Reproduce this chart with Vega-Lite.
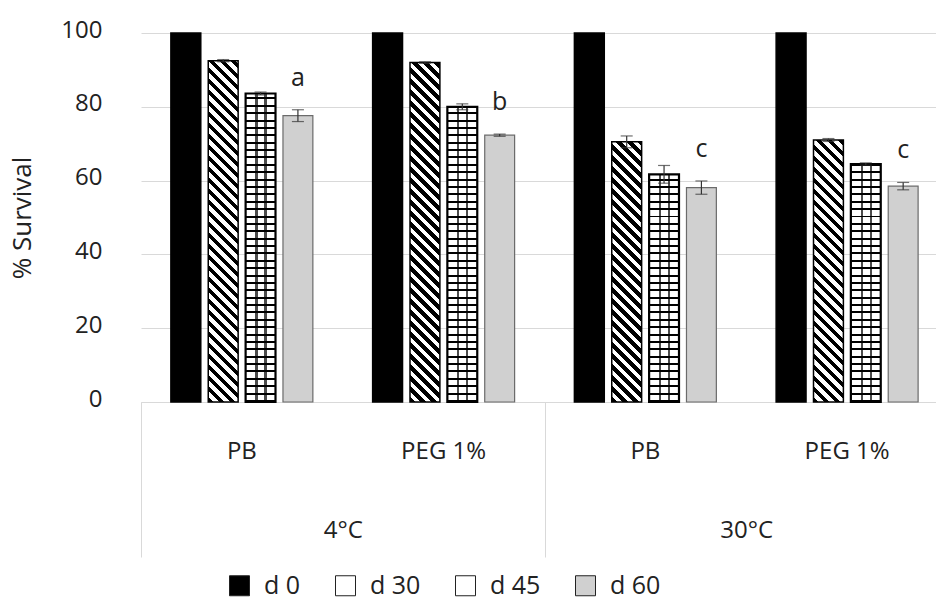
{
  "$schema": "https://vega.github.io/schema/vega-lite/v6.json",
  "width": 795,
  "height": 369,
  "autosize": "none",
  "padding": {"left": 141, "top": 33, "right": 0, "bottom": 203},
  "background": "white",
  "config": {"view": {"stroke": null}, "font": "Open Sans"},
  "params": [
    {"name": "stripeStops", "value": [
      {"offset":0,"color":"#000"},{"offset":0.0125,"color":"#000"},{"offset":0.0125,"color":"#fff"},{"offset":0.025,"color":"#fff"},
      {"offset":0.025,"color":"#000"},{"offset":0.0375,"color":"#000"},{"offset":0.0375,"color":"#fff"},{"offset":0.05,"color":"#fff"},
      {"offset":0.05,"color":"#000"},{"offset":0.0625,"color":"#000"},{"offset":0.0625,"color":"#fff"},{"offset":0.075,"color":"#fff"},
      {"offset":0.075,"color":"#000"},{"offset":0.0875,"color":"#000"},{"offset":0.0875,"color":"#fff"},{"offset":0.1,"color":"#fff"},
      {"offset":0.1,"color":"#000"},{"offset":0.1125,"color":"#000"},{"offset":0.1125,"color":"#fff"},{"offset":0.125,"color":"#fff"},
      {"offset":0.125,"color":"#000"},{"offset":0.1375,"color":"#000"},{"offset":0.1375,"color":"#fff"},{"offset":0.15,"color":"#fff"},
      {"offset":0.15,"color":"#000"},{"offset":0.1625,"color":"#000"},{"offset":0.1625,"color":"#fff"},{"offset":0.175,"color":"#fff"},
      {"offset":0.175,"color":"#000"},{"offset":0.1875,"color":"#000"},{"offset":0.1875,"color":"#fff"},{"offset":0.2,"color":"#fff"},
      {"offset":0.2,"color":"#000"},{"offset":0.2125,"color":"#000"},{"offset":0.2125,"color":"#fff"},{"offset":0.225,"color":"#fff"},
      {"offset":0.225,"color":"#000"},{"offset":0.2375,"color":"#000"},{"offset":0.2375,"color":"#fff"},{"offset":0.25,"color":"#fff"},
      {"offset":0.25,"color":"#000"},{"offset":0.2625,"color":"#000"},{"offset":0.2625,"color":"#fff"},{"offset":0.275,"color":"#fff"},
      {"offset":0.275,"color":"#000"},{"offset":0.2875,"color":"#000"},{"offset":0.2875,"color":"#fff"},{"offset":0.3,"color":"#fff"},
      {"offset":0.3,"color":"#000"},{"offset":0.3125,"color":"#000"},{"offset":0.3125,"color":"#fff"},{"offset":0.325,"color":"#fff"},
      {"offset":0.325,"color":"#000"},{"offset":0.3375,"color":"#000"},{"offset":0.3375,"color":"#fff"},{"offset":0.35,"color":"#fff"},
      {"offset":0.35,"color":"#000"},{"offset":0.3625,"color":"#000"},{"offset":0.3625,"color":"#fff"},{"offset":0.375,"color":"#fff"},
      {"offset":0.375,"color":"#000"},{"offset":0.3875,"color":"#000"},{"offset":0.3875,"color":"#fff"},{"offset":0.4,"color":"#fff"},
      {"offset":0.4,"color":"#000"},{"offset":0.4125,"color":"#000"},{"offset":0.4125,"color":"#fff"},{"offset":0.425,"color":"#fff"},
      {"offset":0.425,"color":"#000"},{"offset":0.4375,"color":"#000"},{"offset":0.4375,"color":"#fff"},{"offset":0.45,"color":"#fff"},
      {"offset":0.45,"color":"#000"},{"offset":0.4625,"color":"#000"},{"offset":0.4625,"color":"#fff"},{"offset":0.475,"color":"#fff"},
      {"offset":0.475,"color":"#000"},{"offset":0.4875,"color":"#000"},{"offset":0.4875,"color":"#fff"},{"offset":0.5,"color":"#fff"},
      {"offset":0.5,"color":"#000"},{"offset":0.5125,"color":"#000"},{"offset":0.5125,"color":"#fff"},{"offset":0.525,"color":"#fff"},
      {"offset":0.525,"color":"#000"},{"offset":0.5375,"color":"#000"},{"offset":0.5375,"color":"#fff"},{"offset":0.55,"color":"#fff"},
      {"offset":0.55,"color":"#000"},{"offset":0.5625,"color":"#000"},{"offset":0.5625,"color":"#fff"},{"offset":0.575,"color":"#fff"},
      {"offset":0.575,"color":"#000"},{"offset":0.5875,"color":"#000"},{"offset":0.5875,"color":"#fff"},{"offset":0.6,"color":"#fff"},
      {"offset":0.6,"color":"#000"},{"offset":0.6125,"color":"#000"},{"offset":0.6125,"color":"#fff"},{"offset":0.625,"color":"#fff"},
      {"offset":0.625,"color":"#000"},{"offset":0.6375,"color":"#000"},{"offset":0.6375,"color":"#fff"},{"offset":0.65,"color":"#fff"},
      {"offset":0.65,"color":"#000"},{"offset":0.6625,"color":"#000"},{"offset":0.6625,"color":"#fff"},{"offset":0.675,"color":"#fff"},
      {"offset":0.675,"color":"#000"},{"offset":0.6875,"color":"#000"},{"offset":0.6875,"color":"#fff"},{"offset":0.7,"color":"#fff"},
      {"offset":0.7,"color":"#000"},{"offset":0.7125,"color":"#000"},{"offset":0.7125,"color":"#fff"},{"offset":0.725,"color":"#fff"},
      {"offset":0.725,"color":"#000"},{"offset":0.7375,"color":"#000"},{"offset":0.7375,"color":"#fff"},{"offset":0.75,"color":"#fff"},
      {"offset":0.75,"color":"#000"},{"offset":0.7625,"color":"#000"},{"offset":0.7625,"color":"#fff"},{"offset":0.775,"color":"#fff"},
      {"offset":0.775,"color":"#000"},{"offset":0.7875,"color":"#000"},{"offset":0.7875,"color":"#fff"},{"offset":0.8,"color":"#fff"},
      {"offset":0.8,"color":"#000"},{"offset":0.8125,"color":"#000"},{"offset":0.8125,"color":"#fff"},{"offset":0.825,"color":"#fff"},
      {"offset":0.825,"color":"#000"},{"offset":0.8375,"color":"#000"},{"offset":0.8375,"color":"#fff"},{"offset":0.85,"color":"#fff"},
      {"offset":0.85,"color":"#000"},{"offset":0.8625,"color":"#000"},{"offset":0.8625,"color":"#fff"},{"offset":0.875,"color":"#fff"}
    ]},
    {"name": "brickStops", "value": [
      {"offset":0,"color":"#000"},{"offset":0.0054,"color":"#000"},{"offset":0.0054,"color":"#fff"},{"offset":0.02,"color":"#fff"},
      {"offset":0.02,"color":"#000"},{"offset":0.0254,"color":"#000"},{"offset":0.0254,"color":"#fff"},{"offset":0.04,"color":"#fff"},
      {"offset":0.04,"color":"#000"},{"offset":0.0454,"color":"#000"},{"offset":0.0454,"color":"#fff"},{"offset":0.06,"color":"#fff"},
      {"offset":0.06,"color":"#000"},{"offset":0.0654,"color":"#000"},{"offset":0.0654,"color":"#fff"},{"offset":0.08,"color":"#fff"},
      {"offset":0.08,"color":"#000"},{"offset":0.0854,"color":"#000"},{"offset":0.0854,"color":"#fff"},{"offset":0.1,"color":"#fff"},
      {"offset":0.1,"color":"#000"},{"offset":0.1054,"color":"#000"},{"offset":0.1054,"color":"#fff"},{"offset":0.12,"color":"#fff"},
      {"offset":0.12,"color":"#000"},{"offset":0.1254,"color":"#000"},{"offset":0.1254,"color":"#fff"},{"offset":0.14,"color":"#fff"},
      {"offset":0.14,"color":"#000"},{"offset":0.1454,"color":"#000"},{"offset":0.1454,"color":"#fff"},{"offset":0.16,"color":"#fff"},
      {"offset":0.16,"color":"#000"},{"offset":0.1654,"color":"#000"},{"offset":0.1654,"color":"#fff"},{"offset":0.18,"color":"#fff"},
      {"offset":0.18,"color":"#000"},{"offset":0.1854,"color":"#000"},{"offset":0.1854,"color":"#fff"},{"offset":0.2,"color":"#fff"},
      {"offset":0.2,"color":"#000"},{"offset":0.2054,"color":"#000"},{"offset":0.2054,"color":"#fff"},{"offset":0.22,"color":"#fff"},
      {"offset":0.22,"color":"#000"},{"offset":0.2254,"color":"#000"},{"offset":0.2254,"color":"#fff"},{"offset":0.24,"color":"#fff"},
      {"offset":0.24,"color":"#000"},{"offset":0.2454,"color":"#000"},{"offset":0.2454,"color":"#fff"},{"offset":0.26,"color":"#fff"},
      {"offset":0.26,"color":"#000"},{"offset":0.2654,"color":"#000"},{"offset":0.2654,"color":"#fff"},{"offset":0.28,"color":"#fff"},
      {"offset":0.28,"color":"#000"},{"offset":0.2854,"color":"#000"},{"offset":0.2854,"color":"#fff"},{"offset":0.3,"color":"#fff"},
      {"offset":0.3,"color":"#000"},{"offset":0.3054,"color":"#000"},{"offset":0.3054,"color":"#fff"},{"offset":0.32,"color":"#fff"},
      {"offset":0.32,"color":"#000"},{"offset":0.3254,"color":"#000"},{"offset":0.3254,"color":"#fff"},{"offset":0.34,"color":"#fff"},
      {"offset":0.34,"color":"#000"},{"offset":0.3454,"color":"#000"},{"offset":0.3454,"color":"#fff"},{"offset":0.36,"color":"#fff"},
      {"offset":0.36,"color":"#000"},{"offset":0.3654,"color":"#000"},{"offset":0.3654,"color":"#fff"},{"offset":0.38,"color":"#fff"},
      {"offset":0.38,"color":"#000"},{"offset":0.3854,"color":"#000"},{"offset":0.3854,"color":"#fff"},{"offset":0.4,"color":"#fff"},
      {"offset":0.4,"color":"#000"},{"offset":0.4054,"color":"#000"},{"offset":0.4054,"color":"#fff"},{"offset":0.42,"color":"#fff"},
      {"offset":0.42,"color":"#000"},{"offset":0.4254,"color":"#000"},{"offset":0.4254,"color":"#fff"},{"offset":0.44,"color":"#fff"},
      {"offset":0.44,"color":"#000"},{"offset":0.4454,"color":"#000"},{"offset":0.4454,"color":"#fff"},{"offset":0.46,"color":"#fff"},
      {"offset":0.46,"color":"#000"},{"offset":0.4654,"color":"#000"},{"offset":0.4654,"color":"#fff"},{"offset":0.48,"color":"#fff"},
      {"offset":0.48,"color":"#000"},{"offset":0.4854,"color":"#000"},{"offset":0.4854,"color":"#fff"},{"offset":0.5,"color":"#fff"},
      {"offset":0.5,"color":"#000"},{"offset":0.5054,"color":"#000"},{"offset":0.5054,"color":"#fff"},{"offset":0.52,"color":"#fff"},
      {"offset":0.52,"color":"#000"},{"offset":0.5254,"color":"#000"},{"offset":0.5254,"color":"#fff"},{"offset":0.54,"color":"#fff"},
      {"offset":0.54,"color":"#000"},{"offset":0.5454,"color":"#000"},{"offset":0.5454,"color":"#fff"},{"offset":0.56,"color":"#fff"},
      {"offset":0.56,"color":"#000"},{"offset":0.5654,"color":"#000"},{"offset":0.5654,"color":"#fff"},{"offset":0.58,"color":"#fff"},
      {"offset":0.58,"color":"#000"},{"offset":0.5854,"color":"#000"},{"offset":0.5854,"color":"#fff"},{"offset":0.6,"color":"#fff"},
      {"offset":0.6,"color":"#000"},{"offset":0.6054,"color":"#000"},{"offset":0.6054,"color":"#fff"},{"offset":0.62,"color":"#fff"},
      {"offset":0.62,"color":"#000"},{"offset":0.6254,"color":"#000"},{"offset":0.6254,"color":"#fff"},{"offset":0.64,"color":"#fff"},
      {"offset":0.64,"color":"#000"},{"offset":0.6454,"color":"#000"},{"offset":0.6454,"color":"#fff"},{"offset":0.66,"color":"#fff"},
      {"offset":0.66,"color":"#000"},{"offset":0.6654,"color":"#000"},{"offset":0.6654,"color":"#fff"},{"offset":0.68,"color":"#fff"},
      {"offset":0.68,"color":"#000"},{"offset":0.6854,"color":"#000"},{"offset":0.6854,"color":"#fff"},{"offset":0.7,"color":"#fff"},
      {"offset":0.7,"color":"#000"},{"offset":0.7054,"color":"#000"},{"offset":0.7054,"color":"#fff"},{"offset":0.72,"color":"#fff"},
      {"offset":0.72,"color":"#000"},{"offset":0.7254,"color":"#000"},{"offset":0.7254,"color":"#fff"},{"offset":0.74,"color":"#fff"},
      {"offset":0.74,"color":"#000"},{"offset":0.7454,"color":"#000"},{"offset":0.7454,"color":"#fff"},{"offset":0.76,"color":"#fff"},
      {"offset":0.76,"color":"#000"},{"offset":0.7654,"color":"#000"},{"offset":0.7654,"color":"#fff"},{"offset":0.78,"color":"#fff"},
      {"offset":0.78,"color":"#000"},{"offset":0.7854,"color":"#000"},{"offset":0.7854,"color":"#fff"},{"offset":0.8,"color":"#fff"},
      {"offset":0.8,"color":"#000"},{"offset":0.8054,"color":"#000"},{"offset":0.8054,"color":"#fff"},{"offset":0.82,"color":"#fff"},
      {"offset":0.82,"color":"#000"},{"offset":0.8254,"color":"#000"},{"offset":0.8254,"color":"#fff"},{"offset":0.84,"color":"#fff"},
      {"offset":0.84,"color":"#000"},{"offset":0.8454,"color":"#000"},{"offset":0.8454,"color":"#fff"},{"offset":0.86,"color":"#fff"}
    ]}
  ],
  "data": {"values": [
    {"temp": "4°C", "group": "4°C|PB", "day": "d 0", "value": 100, "err": 0, "letter": ""},
    {"temp": "4°C", "group": "4°C|PB", "day": "d 30", "value": 92.5, "err": 0.3, "letter": ""},
    {"temp": "4°C", "group": "4°C|PB", "day": "d 45", "value": 83.6, "err": 0.4, "letter": ""},
    {"temp": "4°C", "group": "4°C|PB", "day": "d 60", "value": 77.6, "err": 1.6, "letter": "a"},
    {"temp": "4°C", "group": "4°C|PEG 1%", "day": "d 0", "value": 100, "err": 0, "letter": ""},
    {"temp": "4°C", "group": "4°C|PEG 1%", "day": "d 30", "value": 92, "err": 0.2, "letter": ""},
    {"temp": "4°C", "group": "4°C|PEG 1%", "day": "d 45", "value": 80, "err": 0.8, "letter": ""},
    {"temp": "4°C", "group": "4°C|PEG 1%", "day": "d 60", "value": 72.3, "err": 0.3, "letter": "b"},
    {"temp": "30°C", "group": "30°C|PB", "day": "d 0", "value": 100, "err": 0, "letter": ""},
    {"temp": "30°C", "group": "30°C|PB", "day": "d 30", "value": 70.5, "err": 1.6, "letter": ""},
    {"temp": "30°C", "group": "30°C|PB", "day": "d 45", "value": 61.7, "err": 2.4, "letter": ""},
    {"temp": "30°C", "group": "30°C|PB", "day": "d 60", "value": 58.1, "err": 1.8, "letter": "c"},
    {"temp": "30°C", "group": "30°C|PEG 1%", "day": "d 0", "value": 100, "err": 0, "letter": ""},
    {"temp": "30°C", "group": "30°C|PEG 1%", "day": "d 30", "value": 71, "err": 0.4, "letter": ""},
    {"temp": "30°C", "group": "30°C|PEG 1%", "day": "d 45", "value": 64.5, "err": 0.3, "letter": ""},
    {"temp": "30°C", "group": "30°C|PEG 1%", "day": "d 60", "value": 58.5, "err": 1, "letter": "c"}
  ]},
  "transform": [
    {"calculate": "datum.value - datum.err", "as": "lo"},
    {"calculate": "datum.value + datum.err", "as": "hi"}
  ],
  "layer": [
    {
      "encoding": {
        "x": {
          "field": "group", "type": "nominal",
          "scale": {"domain": ["4°C|PB", "4°C|PEG 1%", "30°C|PB", "30°C|PEG 1%"], "range": [0, 807], "paddingInner": 0, "paddingOuter": 0},
          "axis": {"orient": "bottom", "title": null, "labelExpr": "split(datum.value, '|')[1]", "labelAngle": 0, "ticks": false, "grid": false, "domain": true, "domainColor": "#d9d9d9", "domainWidth": 1, "labelPadding": 37, "labelFont": "Open Sans", "labelFontSize": 24, "labelColor": "#222"}
        },
        "xOffset": {"field": "day", "type": "nominal", "scale": {"domain": ["d 0", "d 30", "d 45", "d 60"], "paddingInner": 0.2, "paddingOuter": 0.8}},
        "y": {
          "field": "value", "type": "quantitative", "stack": null, "title": "% Survival",
          "scale": {"domain": [0, 100], "nice": false},
          "axis": {"values": [0, 20, 40, 60, 80, 100], "grid": true, "gridColor": "#d9d9d9", "gridWidth": 1, "domain": false, "ticks": false, "labelPadding": 39, "labelOffset": -3, "labelFont": "Open Sans", "labelFontSize": 24, "labelColor": "#222", "titleFont": "Open Sans", "titleFontSize": 26, "titleFontWeight": "normal", "titleColor": "#222", "titlePadding": 25}
        }
      },
      "layer": [
        {
          "mark": {"type": "bar"},
          "encoding": {
            "fill": {
              "field": "day", "type": "nominal",
              "scale": {"domain": ["d 0", "d 30", "d 45", "d 60"], "range": ["#000000", "#ffffff", "#ffffff", "#d0d0d0"]},
              "legend": {
                "orient": "none", "legendX": 86, "legendY": 540, "direction": "horizontal", "title": null,
                "symbolType": "square", "symbolSize": 400, "symbolStrokeWidth": 1, "symbolStrokeColor": "#222",
                "labelFont": "Open Sans", "labelFontSize": 25, "labelColor": "#222", "labelOffset": 12, "columnPadding": 32
              }
            }
          }
        },
        {
          "transform": [{"filter": "datum.day === 'd 30'"}],
          "mark": {"type": "bar", "fill": {"expr": "{gradient: 'linear', x1: 0, y1: 1, x2: 13156 / (894 + pow(datum.value * 3.69, 2)), y2: 1 - 1623.6 * datum.value / (894 + pow(datum.value * 3.69, 2)), stops: stripeStops}"}}
        },
        {
          "transform": [{"filter": "datum.day === 'd 45'"}],
          "mark": {"type": "bar", "fill": {"expr": "{gradient: 'linear', x1: 0, y1: 1, x2: 0, y2: 1 - 100 / datum.value, stops: brickStops}"}}
        },
        {
          "transform": [{"filter": "datum.day === 'd 45'"}],
          "mark": {"type": "bar", "opacity": 0.7, "fill": {"gradient": "linear", "x1": 0, "y1": 0, "x2": 1, "y2": 0, "stops": [
            {"offset": 0, "color": "rgba(0,0,0,0)"}, {"offset": 0.33, "color": "rgba(0,0,0,0)"}, {"offset": 0.33, "color": "#000"}, {"offset": 0.4, "color": "#000"},
            {"offset": 0.4, "color": "rgba(0,0,0,0)"}, {"offset": 0.63, "color": "rgba(0,0,0,0)"}, {"offset": 0.63, "color": "#000"}, {"offset": 0.7, "color": "#000"},
            {"offset": 0.7, "color": "rgba(0,0,0,0)"}, {"offset": 1, "color": "rgba(0,0,0,0)"}]}}
        },
        {
          "mark": {"type": "bar", "fillOpacity": 0},
          "encoding": {
            "stroke": {"condition": {"test": "datum.day === 'd 60'", "value": "#6b6b6b"}, "value": "#000"},
            "strokeWidth": {"condition": [{"test": "datum.day === 'd 45'", "value": 2.2}, {"test": "datum.day === 'd 60'", "value": 1.2}], "value": 1.5}
          }
        },
        {
          "transform": [{"filter": "datum.err > 0"}],
          "mark": {"type": "rule", "color": "#333", "strokeWidth": 1.2},
          "encoding": {
            "y": {"field": "lo", "type": "quantitative", "title": "% Survival"},
            "y2": {"field": "hi"}
          }
        },
        {
          "transform": [{"filter": "datum.err > 0"}],
          "mark": {"type": "tick", "orient": "horizontal", "color": "#333", "size": 12, "thickness": 1.2},
          "encoding": {"y": {"field": "lo", "type": "quantitative", "title": "% Survival"}}
        },
        {
          "transform": [{"filter": "datum.err > 0"}],
          "mark": {"type": "tick", "orient": "horizontal", "color": "#333", "size": 12, "thickness": 1.2},
          "encoding": {"y": {"field": "hi", "type": "quantitative", "title": "% Survival"}}
        },
        {
          "transform": [{"filter": "datum.letter !== ''"}],
          "mark": {"type": "text", "font": "Open Sans", "fontSize": 25, "color": "#222", "baseline": "alphabetic", "dy": -24},
          "encoding": {
            "y": {"field": "hi", "type": "quantitative", "title": "% Survival"},
            "text": {"field": "letter"}
          }
        }
      ]
    },
    {
      "mark": {"type": "point", "opacity": 0},
      "encoding": {
        "x": {
          "field": "temp", "type": "nominal",
          "scale": {"type": "band", "domain": ["4°C", "30°C"], "range": [0, 807], "paddingInner": 0, "paddingOuter": 0},
          "axis": {"orient": "bottom", "title": null, "labelAngle": 0, "tickBand": "extent", "ticks": true, "tickSize": 155, "tickColor": "#d9d9d9", "tickWidth": 1, "domain": false, "grid": false, "labelPadding": -39, "labelFont": "Open Sans", "labelFontSize": 24, "labelColor": "#222"}
        }
      }
    }
  ],
  "resolve": {"scale": {"x": "independent"}}
}
